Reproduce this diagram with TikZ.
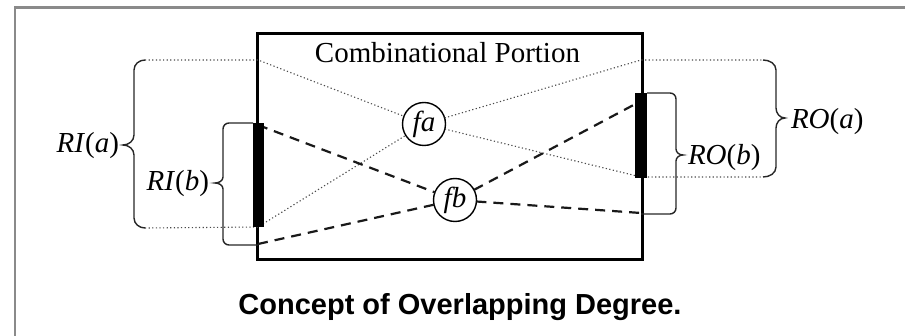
\documentclass[tikz,border=0pt]{standalone}
\usepackage{fontspec}
\setmainfont{Liberation Serif}
\newfontfamily\capfont{Liberation Sans}
\usetikzlibrary{positioning,calc}
\definecolor{framegray}{HTML}{8a8a8a}
\definecolor{dotgray}{HTML}{4a4a4a}

\begin{document}
\begin{tikzpicture}[x=1pt, y=-1pt,
  every node/.style={font=\fontsize{29}{33}\selectfont, inner sep=0pt, outer sep=0pt},
  fnode/.style={draw, circle, fill=white, line width=1.4pt, minimum size=43pt},
  barbox/.style={fill=black, draw=none, minimum width=11pt},
  dotline/.style={dotgray, line width=1.1pt, dash pattern=on 1.2pt off 2.4pt},
  dashline/.style={black!90, line width=2.2pt, dash pattern=on 10pt off 7pt},
  brc/.style={line width=1.4pt, black!85}]
  \useasboundingbox (0,0) rectangle (905,336);

  % outer frame (cut at right and bottom)
  \draw[framegray, line width=2.5pt] (15,340) -- (15,7.5) -- (910,7.5);

  % combinational portion
  \node[draw, line width=3pt, minimum width=385pt, minimum height=226pt] (cp) at (449.5,147) {};
  \node[anchor=base] (title) at (447.5,63) {Combinational Portion};

  % functions
  \node[fnode] (fa) at (424,124) {\itshape fa};
  \node[fnode] (fb) at (455,200) {\itshape fb};

  % points on the box edges
  \coordinate (ia) at (258,60);
  \coordinate (ib) at (258,227);
  \coordinate (jb) at (258,125);
  \coordinate (jc) at (258,244);
  \coordinate (oa) at (641,60);
  \coordinate (ob) at (641,177);
  \coordinate (pb) at (641,101);
  \coordinate (pc) at (641,213);

  % paths of fa (dotted)
  \draw[dotline] (145,60) -- (ia) -- (fa);
  \draw[dotline] (145,228) -- (ib) -- (fa);
  \draw[dotline] (fa) -- (oa) -- (763,60);
  \draw[dotline] (fa) -- (ob) -- (763,177);

  % paths of fb (dashed)
  \draw[dashline] (jb) -- (fb);
  \draw[dashline] (jc) -- (fb);
  \draw[dashline] (fb) -- (pb);
  \draw[dashline] (fb) -- (pc);

  % register bars
  \node[barbox, minimum height=104pt] (lbar) at (258.5,175) {};
  \node[barbox, minimum width=12pt, minimum height=85pt] (rbar) at (641,135.5) {};

  % braces
  \draw[brc] (145,60) to[out=180,in=90] (134,70) -- (134,135) to[out=270,in=0] (123,145)
    to[out=0,in=90] (134,155) -- (134,218) to[out=270,in=180] (145,228);
  \draw[brc] (lbar.north west) -- (229,123) to[out=180,in=90] (223,129) -- (223,177)
    to[out=270,in=0] (215,183) to[out=0,in=90] (223,189) -- (223,239) to[out=270,in=180] (229,245) -- (258,245);
  \draw[brc] (rbar.north east) -- (670,93) to[out=0,in=90] (676,99) -- (676,149)
    to[out=270,in=180] (683,155) to[out=180,in=90] (676,161) -- (676,208) to[out=270,in=0] (670,214) -- (641,214);
  \draw[brc] (763,60) to[out=0,in=90] (776,70) -- (776,108) to[out=270,in=180] (785,118)
    to[out=180,in=90] (776,128) -- (776,167) to[out=270,in=0] (763,177);

  % labels
  \node[anchor=east] (ria) at (119,146) {\textit{RI}(\textit{a})};
  \node[anchor=east] (rib) at (209,184) {\textit{RI}(\textit{b})};
  \node[anchor=west] (rob) at (688,158) {\textit{RO}(\textit{b})};
  \node[anchor=west] (roa) at (791,122) {\textit{RO}(\textit{a})};

  % caption
  \node[anchor=base, font=\capfont\bfseries\fontsize{29}{33}\selectfont] (cap) at (460,315)
    {Concept of Overlapping Degree.};
\end{tikzpicture}
\end{document}
